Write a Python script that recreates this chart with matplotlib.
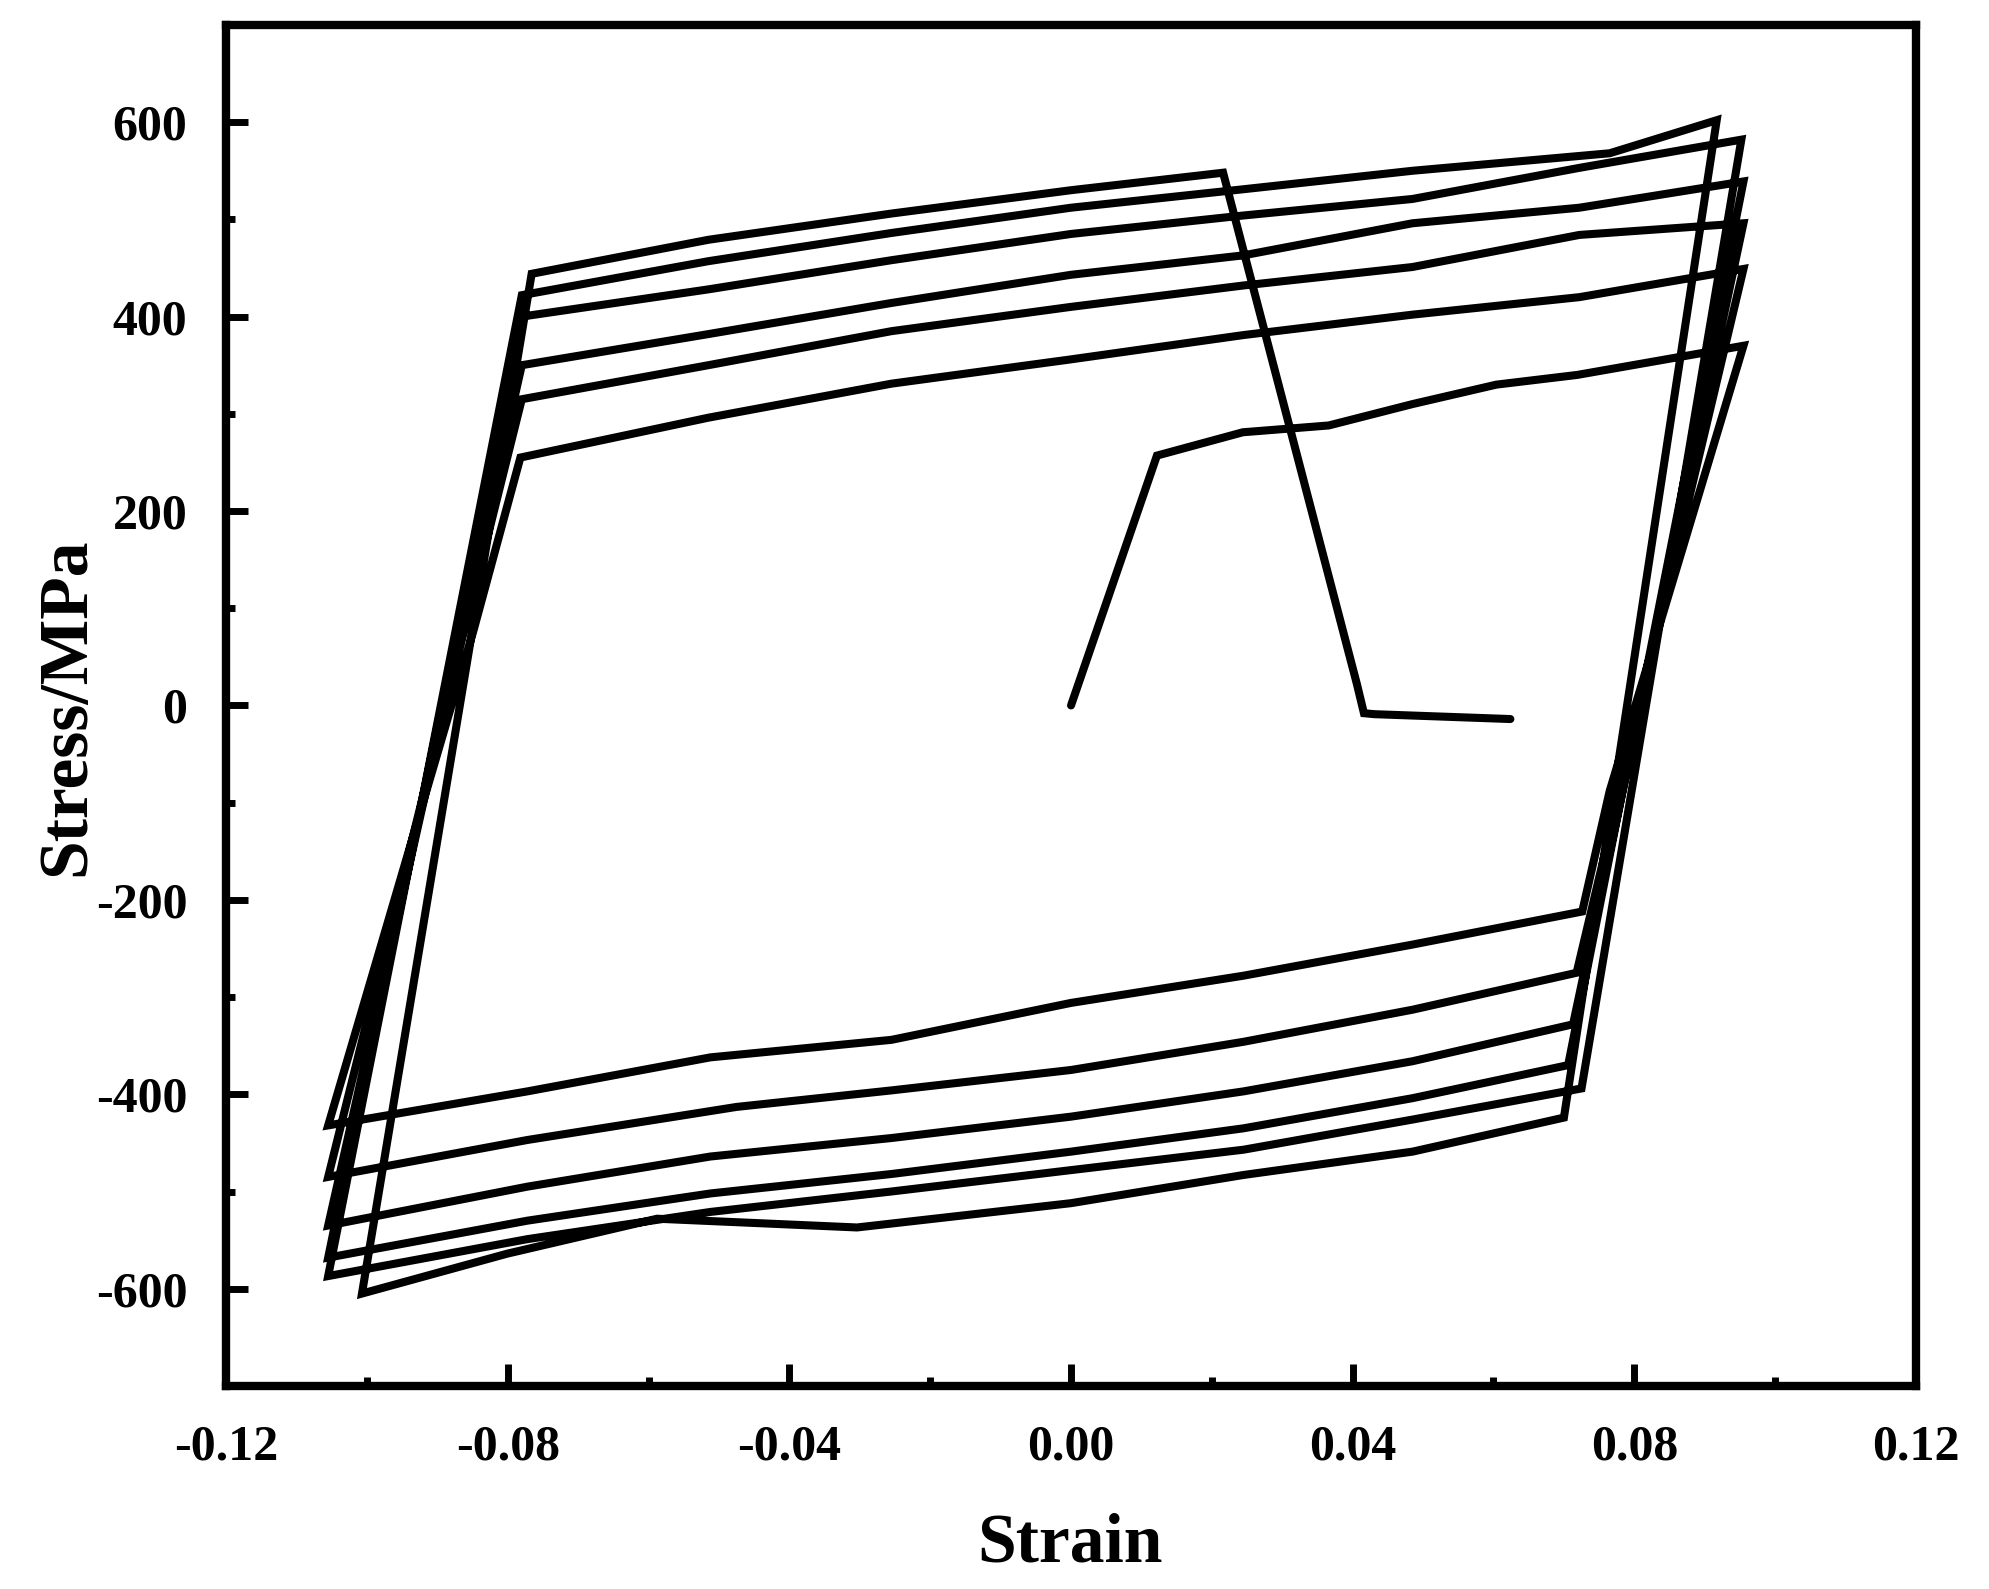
"""
Cyclic stress-strain hysteresis loops (single continuous path)
"""

import numpy as np
import matplotlib
matplotlib.use("Agg")
import matplotlib.pyplot as plt
from matplotlib.ticker import MultipleLocator

plt.rcParams["font.family"] = ["Liberation Serif", "DejaVu Serif"]
plt.rcParams["font.weight"] = "bold"
plt.rcParams["axes.unicode_minus"] = False

# initial loading to the first peak
init_strain = [0.0, 0.0122, 0.0244, 0.0366, 0.0485, 0.0604, 0.0719, 0.0955]
init_stress = [0, 257, 281, 288, 310, 330, 340, 370]

# first unloading has an extra point before reaching the lower branch
unload0_strain = [0.0765]
unload0_stress = [-88]

# lower branches: right corner -> valley
l1_strain = [0.0726, 0.0485, 0.0245, 0.0, -0.0255, -0.0512, -0.0772, -0.1055]
l1_stress = [-212, -246, -278, -306, -344, -362, -397, -432]
l2_strain = [0.0718, 0.0485, 0.0245, 0.0, -0.0255, -0.0475, -0.0772, -0.1055]
l2_stress = [-275, -313, -346, -375, -396, -413, -447, -485]
l3_strain = [0.0713, 0.0485, 0.0245, 0.0, -0.0255, -0.0512, -0.0772, -0.1055]
l3_stress = [-328, -366, -397, -423, -445, -464, -495, -535]
l4_strain = [0.0706, 0.0485, 0.0245, 0.0, -0.0255, -0.0512, -0.0772, -0.1055]
l4_stress = [-370, -404, -435, -459, -482, -502, -530, -568]
l5_strain = [0.0725, 0.0485, 0.0245, 0.0, -0.0255, -0.0512, -0.0772, -0.1055]
l5_stress = [-394, -426, -457, -478, -500, -521, -549, -587]
l6_strain = [0.0700, 0.0485, 0.0245, 0.0, -0.0304, -0.0588, -0.0801, -0.1007]
l6_stress = [-424, -459, -483, -512, -537, -528, -564, -605]

# first reloading has an extra point before reaching the upper branch
load1_strain = [-0.0849]
load1_stress = [76]

# upper branches: left corner -> peak
u1_strain = [-0.0782, -0.0515, -0.0255, 0.0, 0.0245, 0.0485, 0.0722, 0.0955]
u1_stress = [255, 296, 331, 356, 381, 402, 420, 449]
u2_strain = [-0.0780, -0.0515, -0.0255, 0.0, 0.0245, 0.0485, 0.0722, 0.0955]
u2_stress = [315, 350, 385, 410, 432, 451, 484, 496]
u3_strain = [-0.0780, -0.0515, -0.0255, 0.0, 0.0245, 0.0485, 0.0722, 0.0955]
u3_stress = [350, 382, 414, 443, 463, 496, 512, 539]
u4_strain = [-0.0780, -0.0515, -0.0255, 0.0, 0.0245, 0.0485, 0.0722, 0.0952]
u4_stress = [400, 428, 458, 485, 504, 521, 553, 582]
u5_strain = [-0.0780, -0.0515, -0.0255, 0.0, 0.0245, 0.0485, 0.0765, 0.0917]
u5_stress = [422, 457, 486, 512, 531, 550, 568, 602]
u6_strain = [-0.0766, -0.0515, -0.0255, 0.0, 0.0216]
u6_stress = [444, 479, 506, 530, 548]

# final unloading to rest
end_strain = [0.0406, 0.0416, 0.0431, 0.0624]
end_stress = [22, -8, -9, -14]

segments_strain = [init_strain, unload0_strain, l1_strain, load1_strain, u1_strain,
                   l2_strain, u2_strain, l3_strain, u3_strain, l4_strain, u4_strain,
                   l5_strain, u5_strain, l6_strain, u6_strain, end_strain]
segments_stress = [init_stress, unload0_stress, l1_stress, load1_stress, u1_stress,
                   l2_stress, u2_stress, l3_stress, u3_stress, l4_stress, u4_stress,
                   l5_stress, u5_stress, l6_stress, u6_stress, end_stress]

strain = np.concatenate([np.asarray(s, dtype=float) for s in segments_strain])
stress = np.concatenate([np.asarray(s, dtype=float) for s in segments_stress])

fig = plt.figure(figsize=(19.9, 15.89), dpi=100)
ax = fig.add_axes([0.1136, 0.1278, 0.8492, 0.8565])

ax.plot(strain, stress, color="black", linewidth=5.8, solid_joinstyle="miter",
        solid_capstyle="round")

ax.set_xlim(-0.12, 0.12)
ax.set_ylim(-700, 700)
ax.xaxis.set_major_locator(MultipleLocator(0.04))
ax.xaxis.set_minor_locator(MultipleLocator(0.02))
ax.yaxis.set_major_locator(MultipleLocator(200))
ax.yaxis.set_minor_locator(MultipleLocator(100))
ax.xaxis.set_major_formatter(plt.FuncFormatter(lambda v, p: f"{v:.2f}"))
ax.yaxis.set_major_formatter(plt.FuncFormatter(lambda v, p: f"{v:.0f}"))

for side in ax.spines.values():
    side.set_linewidth(6)

ax.tick_params(which="both", direction="in", top=False, right=False,
               labelsize=36, width=5)
ax.tick_params(which="major", length=16, pad=28)
ax.tick_params(which="minor", length=6.5)
for lab in ax.get_xticklabels() + ax.get_yticklabels():
    lab.set_fontweight("bold")

fig.text(0.5377, 0.0176, "Strain", ha="center", va="baseline",
         fontsize=50, fontweight="bold")
fig.text(0.034, 0.555, "Stress/MPa", ha="center", va="center", rotation=90,
         fontsize=50, fontweight="bold")

fig.savefig("out.png", dpi=100)
plt.close(fig)
